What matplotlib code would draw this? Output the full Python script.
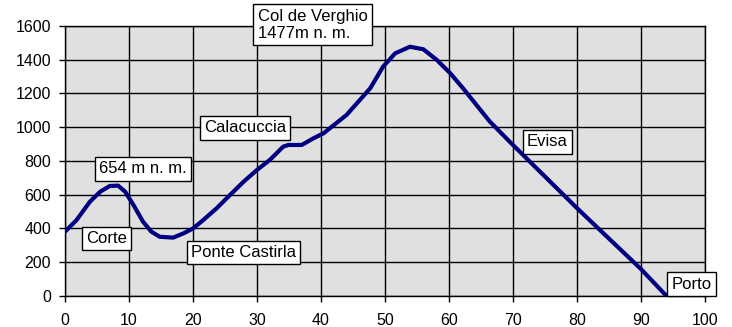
import matplotlib
matplotlib.use("Agg")
import matplotlib.pyplot as plt

km = [0, 1.8, 3.9, 5.5, 7.0, 8.3, 9.4, 10.7, 12.2, 13.5, 14.8, 16.9, 18.5, 20.0,
      21.6, 23.7, 25.8, 27.9, 30.0, 32.0, 34.1, 34.9, 37.0, 38.8, 40.4, 44.0,
      47.7, 49.7, 51.6, 53.9, 56.0, 58.1, 60.2, 62.2, 66.4, 70, 80, 90, 94]
alt = [381, 450, 559, 618, 652, 654, 618, 539, 440, 381, 351, 346, 371, 400,
       450, 520, 599, 677, 747, 806, 885, 895, 895, 934, 964, 1073,
       1231, 1359, 1438, 1477, 1462, 1399, 1320, 1231, 1033, 895, 521, 160, 0]

labels = ["Col de Verghio\n1477m n. m.", "Calacuccia", "654 m n. m.", "Corte",
          "Ponte Castirla", "Evisa", "Porto"]
label_x = [30.1, 21.7, 5.3, 3.3, 19.7, 72.2, 94.8]
label_y = [1703, 996, 753, 341, 258, 913, 71]

xticks = [0, 10, 20, 30, 40, 50, 60, 70, 80, 90, 100]
yticks = [0, 200, 400, 600, 800, 1000, 1200, 1400, 1600]

plt.rcParams['font.family'] = ['Liberation Sans', 'DejaVu Sans']

fig = plt.figure(figsize=(7.32, 3.27), dpi=100)
ax = fig.add_axes([0.0888, 0.0948, 0.963 - 0.0888, 0.9205 - 0.0948])
ax.set_facecolor('#E0E0E0')
ax.plot(km, alt, color='#000080', lw=3, solid_capstyle='round', solid_joinstyle='round', zorder=3)
ax.set_xlim(0, 100)
ax.set_ylim(0, 1600)
ax.set_xticks(xticks)
ax.set_yticks(yticks)
ax.grid(True, color='black', lw=1)
ax.set_axisbelow(True)
for s in ax.spines.values():
    s.set_color('black')
    s.set_linewidth(1)
ax.tick_params(axis='both', labelsize=11.5, length=4, width=1, colors='black')
ax.tick_params(axis='x', pad=8)
ax.tick_params(axis='y', pad=6)

for t, x, y in zip(labels, label_x, label_y):
    va = 'top' if '\n' in t else 'center'
    ax.text(x, y, t, ha='left', va=va, fontsize=12, zorder=5, clip_on=False,
            linespacing=1.2,
            bbox=dict(boxstyle='square,pad=0.25', facecolor='white', edgecolor='black', lw=1))

fig.savefig('out.png', dpi=100)
